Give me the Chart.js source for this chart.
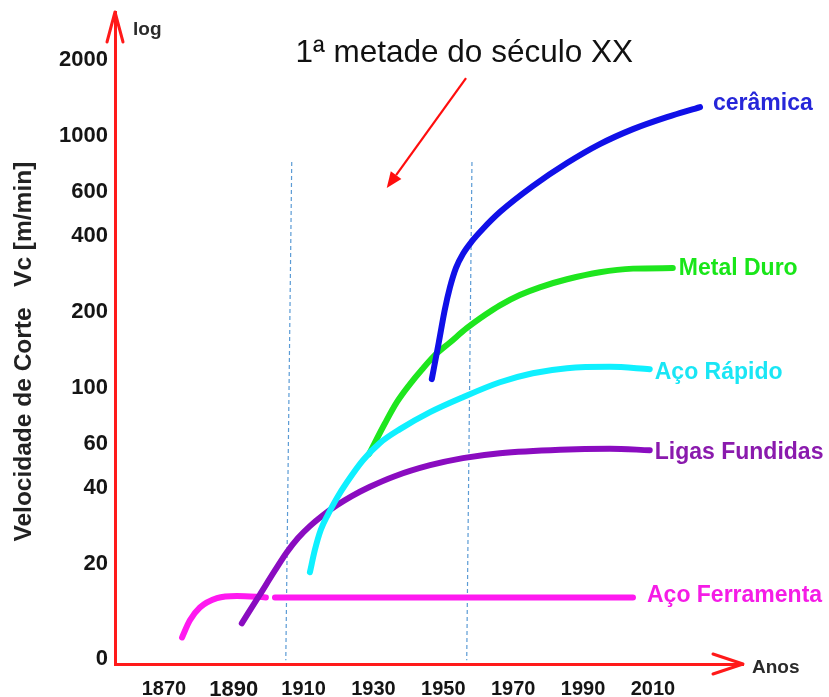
<!DOCTYPE html>
<html lang="pt">
<head>
<meta charset="utf-8">
<title>Velocidade de corte dos materiais de ferramenta</title>
<script src="https://cdn.jsdelivr.net/npm/chart.js@4.4.1/dist/chart.umd.min.js"></script>
<style>
  html, body { margin: 0; padding: 0; background: #ffffff; }
  #quadro { width: 829px; height: 697px; }
</style>
</head>
<body>
<div id="quadro"><canvas id="grafico" width="829" height="697"></canvas></div>
<script>
// Evolução da velocidade de corte Vc [m/min] por material de ferramenta ao longo dos anos

// Cerâmica
const ceramicaAnos = [1946.7, 1948.7, 1950.4, 1951.9, 1953.6, 1955.6, 1958.2, 1961.3, 1966.2, 1975.6, 1985.4, 1994.8, 2004.3, 2014.0, 2023.5];
const ceramicaVc   = [108, 151, 203, 250, 298, 339, 381, 426, 497, 630, 778, 925, 1061, 1184, 1298];

// Metal duro (parte do traço do aço rápido)
const metalDuroAnos = [1928.7, 1933.3, 1936.7, 1940.4, 1943.9, 1947.6, 1951.9, 1956.7, 1961.9, 1966.2, 1971.9, 1977.6, 1985.4, 1994.8, 2004.3, 2015.7];
const metalDuroVc   = [54.4, 72.2, 87.5, 103, 118, 134.5, 151, 172, 194, 212, 233, 250, 269, 287, 296.5, 298];

// Aço rápido
const acoRapidoAnos = [1911.8, 1913.2, 1914.9, 1917.0, 1919.5, 1922.4, 1927.0, 1931.8, 1937.6, 1946.2, 1955.6, 1966.2, 1975.6, 1985.4, 1997.7, 2009.1];
const acoRapidoVc   = [18.5, 22.6, 27.2, 31.4, 36.4, 42.1, 51.5, 60.2, 68.4, 79.9, 91.6, 105, 114, 119.4, 121, 118.3];

// Ligas fundidas
const ligasAnos = [1892.3, 1897.5, 1901.8, 1905.2, 1908.4, 1911.8, 1915.5, 1919.5, 1923.8, 1929.0, 1936.1, 1946.2, 1955.6, 1966.2, 1983.4, 1997.7, 2009.1];
const ligasVc   = [11.6, 15.1, 18.8, 22.2, 25.3, 28.2, 31.1, 34.1, 37.1, 40.4, 44.5, 49.2, 52.5, 54.9, 56.7, 57.2, 56.4];

// Aço ferramenta (traço interrompido logo após 1899)
const acoFerramentaAnos = [1875.2, 1877.4, 1880.3, 1885.2, 1890.9, 1899.2, 1900.5, 1901.8, 2004.3];
const acoFerramentaVc   = [10.2, 11.9, 13.4, 14.6, 14.9, 14.7, null, 14.7, 14.7];

// Linhas tracejadas que delimitam a 1ª metade do século XX (topo, base)
const limiteInicioAnos = [1906.6, 1904.9];
const limiteFimAnos    = [1958.2, 1956.7];
const limiteVc         = [785, 8.27];

// Eixos
const xTickAnos = [1870, 1890, 1910, 1930, 1950, 1970, 1990, 2010];
const xTickDestaque = 1890;
const yTickValores = [8.35, 20, 40, 60, 100, 200, 400, 600, 1000, 2000];
const yTickRotulos = ['0', '20', '40', '60', '100', '200', '400', '600', '1000', '2000'];

// Chamada do título e sua seta (ano, Vc)
const tituloTexto = '1ª metade do século XX';
const tituloPos = [1956.0, 2126];
const setaInicio = [1956.5, 1692];
const setaFim = [1933.8, 619];

const pontos = (anos, vals) => anos.map((a, i) => ({ x: a, y: vals[i] }));

const FONTE = '"Liberation Sans", Arial, Helvetica, sans-serif';
Chart.defaults.font.family = FONTE;

const serie = (label, anos, vals, cor, corTexto, dx, dy, ordem) => ({
  label,
  data: pontos(anos, vals),
  borderColor: cor,
  backgroundColor: cor,
  borderWidth: 6,
  borderCapStyle: 'round',
  borderJoinStyle: 'round',
  pointRadius: 0,
  cubicInterpolationMode: 'monotone',
  spanGaps: false,
  fill: false,
  order: ordem,
  rotulo: { cor: corTexto, dx, dy }
});

const tracejada = (anos) => ({
  label: '',
  data: pontos(anos, limiteVc),
  borderColor: '#5b9bd5',
  borderWidth: 1.2,
  borderDash: [4, 3],
  pointRadius: 0,
  tension: 0,
  fill: false,
  order: 10
});

// Desenha setas dos eixos, nomes dos eixos, rótulos das curvas e a chamada do título
const anotacoes = {
  id: 'anotacoes',
  afterDatasetsDraw(chart) {
    const { ctx, chartArea, scales } = chart;
    const L = chartArea.left, R = chartArea.right, T = chartArea.top, B = chartArea.bottom;
    ctx.save();

    // pontas de seta dos eixos
    ctx.strokeStyle = '#ff1a1a';
    ctx.lineWidth = 3;
    ctx.lineCap = 'round';
    ctx.lineJoin = 'round';
    ctx.beginPath();
    ctx.moveTo(L - 8, T + 30); ctx.lineTo(L, T); ctx.lineTo(L + 8, T + 30);
    ctx.stroke();
    ctx.beginPath();
    ctx.moveTo(R - 30, B - 10); ctx.lineTo(R, B); ctx.lineTo(R - 30, B + 10);
    ctx.stroke();

    // nomes dos eixos
    ctx.fillStyle = '#2a2a2a';
    ctx.textAlign = 'left';
    ctx.textBaseline = 'middle';
    ctx.font = 'bold 19px ' + FONTE;
    ctx.fillText('log', L + 18, T + 18);
    ctx.fillText('Anos', R + 9, B + 4);

    // rótulos no fim de cada curva
    ctx.font = 'bold 23px ' + FONTE;
    chart.data.datasets.forEach((ds, i) => {
      if (!ds.rotulo) return;
      const pts = chart.getDatasetMeta(i).data;
      const p = pts[pts.length - 1];
      ctx.fillStyle = ds.rotulo.cor;
      ctx.fillText(ds.label, p.x + ds.rotulo.dx, p.y + ds.rotulo.dy);
    });

    // chamada "1ª metade do século XX"
    ctx.fillStyle = '#111111';
    ctx.textAlign = 'center';
    ctx.font = '31.5px ' + FONTE;
    ctx.fillText(tituloTexto, scales.x.getPixelForValue(tituloPos[0]), scales.y.getPixelForValue(tituloPos[1]));

    const x0 = scales.x.getPixelForValue(setaInicio[0]), y0 = scales.y.getPixelForValue(setaInicio[1]);
    const x1 = scales.x.getPixelForValue(setaFim[0]), y1 = scales.y.getPixelForValue(setaFim[1]);
    const ang = Math.atan2(y1 - y0, x1 - x0);
    const comp = 16, meia = 6.5;
    const bx = x1 - comp * Math.cos(ang), by = y1 - comp * Math.sin(ang);
    ctx.strokeStyle = '#ff0d0d';
    ctx.fillStyle = '#ff0d0d';
    ctx.lineWidth = 2.2;
    ctx.lineCap = 'butt';
    ctx.beginPath();
    ctx.moveTo(x0, y0); ctx.lineTo(bx, by);
    ctx.stroke();
    ctx.beginPath();
    ctx.moveTo(x1, y1);
    ctx.lineTo(bx + meia * Math.sin(ang), by - meia * Math.cos(ang));
    ctx.lineTo(bx - meia * Math.sin(ang), by + meia * Math.cos(ang));
    ctx.closePath();
    ctx.fill();

    ctx.restore();
  }
};

new Chart(document.getElementById('grafico'), {
  type: 'line',
  data: {
    datasets: [
      serie('cerâmica', ceramicaAnos, ceramicaVc, '#1010e8', '#2626d9', 13, -3, 1),
      serie('Aço Rápido', acoRapidoAnos, acoRapidoVc, '#0ff0ff', '#19e6f5', 5, 3, 2),
      serie('Metal Duro', metalDuroAnos, metalDuroVc, '#1ee61e', '#19e619', 6, 1, 3),
      serie('Ligas Fundidas', ligasAnos, ligasVc, '#8a0cc0', '#8a1aad', 5, 2, 4),
      serie('Aço Ferramenta', acoFerramentaAnos, acoFerramentaVc, '#ff19f0', '#f51ce6', 14, -2, 5),
      tracejada(limiteInicioAnos),
      tracejada(limiteFimAnos)
    ]
  },
  options: {
    responsive: false,
    animation: false,
    devicePixelRatio: 1,
    layout: { padding: { top: 12, right: 86, left: 0, bottom: 0 } },
    plugins: {
      legend: { display: false },
      tooltip: { enabled: false },
      title: { display: false }
    },
    scales: {
      x: {
        type: 'linear',
        min: 1856,
        max: 2035.8,
        afterBuildTicks: (s) => { s.ticks = xTickAnos.map(v => ({ value: v })); },
        afterFit: (s) => { s.height = 33; s.paddingLeft = 0; s.paddingRight = 0; },
        grid: { display: false, drawTicks: false },
        border: { display: true, color: '#ff1a1a', width: 3 },
        ticks: {
          autoSkip: false,
          maxRotation: 0,
          padding: 13,
          color: '#151515',
          font: (c) => (c.tick && c.tick.value === xTickDestaque)
            ? { size: 22, weight: 'bold' }
            : { size: 20, weight: 'bold' },
          callback: (v) => String(v)
        }
      },
      y: {
        type: 'logarithmic',
        min: 8,
        max: 3093,
        afterBuildTicks: (s) => { s.ticks = yTickValores.map(v => ({ value: v })); },
        afterFit: (s) => { s.width = 115; s.paddingTop = 0; s.paddingBottom = 0; },
        grid: { display: false, drawTicks: false },
        border: { display: true, color: '#ff1a1a', width: 3 },
        ticks: {
          autoSkip: false,
          padding: 7,
          color: '#151515',
          font: { size: 22, weight: 'bold' },
          callback: (v, i) => yTickRotulos[i]
        },
        title: {
          display: true,
          text: 'Velocidade de Corte   Vc [m/min]    ',
          color: '#222222',
          font: { size: 24.5, weight: 'bold' },
          padding: { top: 10, bottom: 0 }
        }
      }
    }
  },
  plugins: [anotacoes]
});
</script>
</body>
</html>
